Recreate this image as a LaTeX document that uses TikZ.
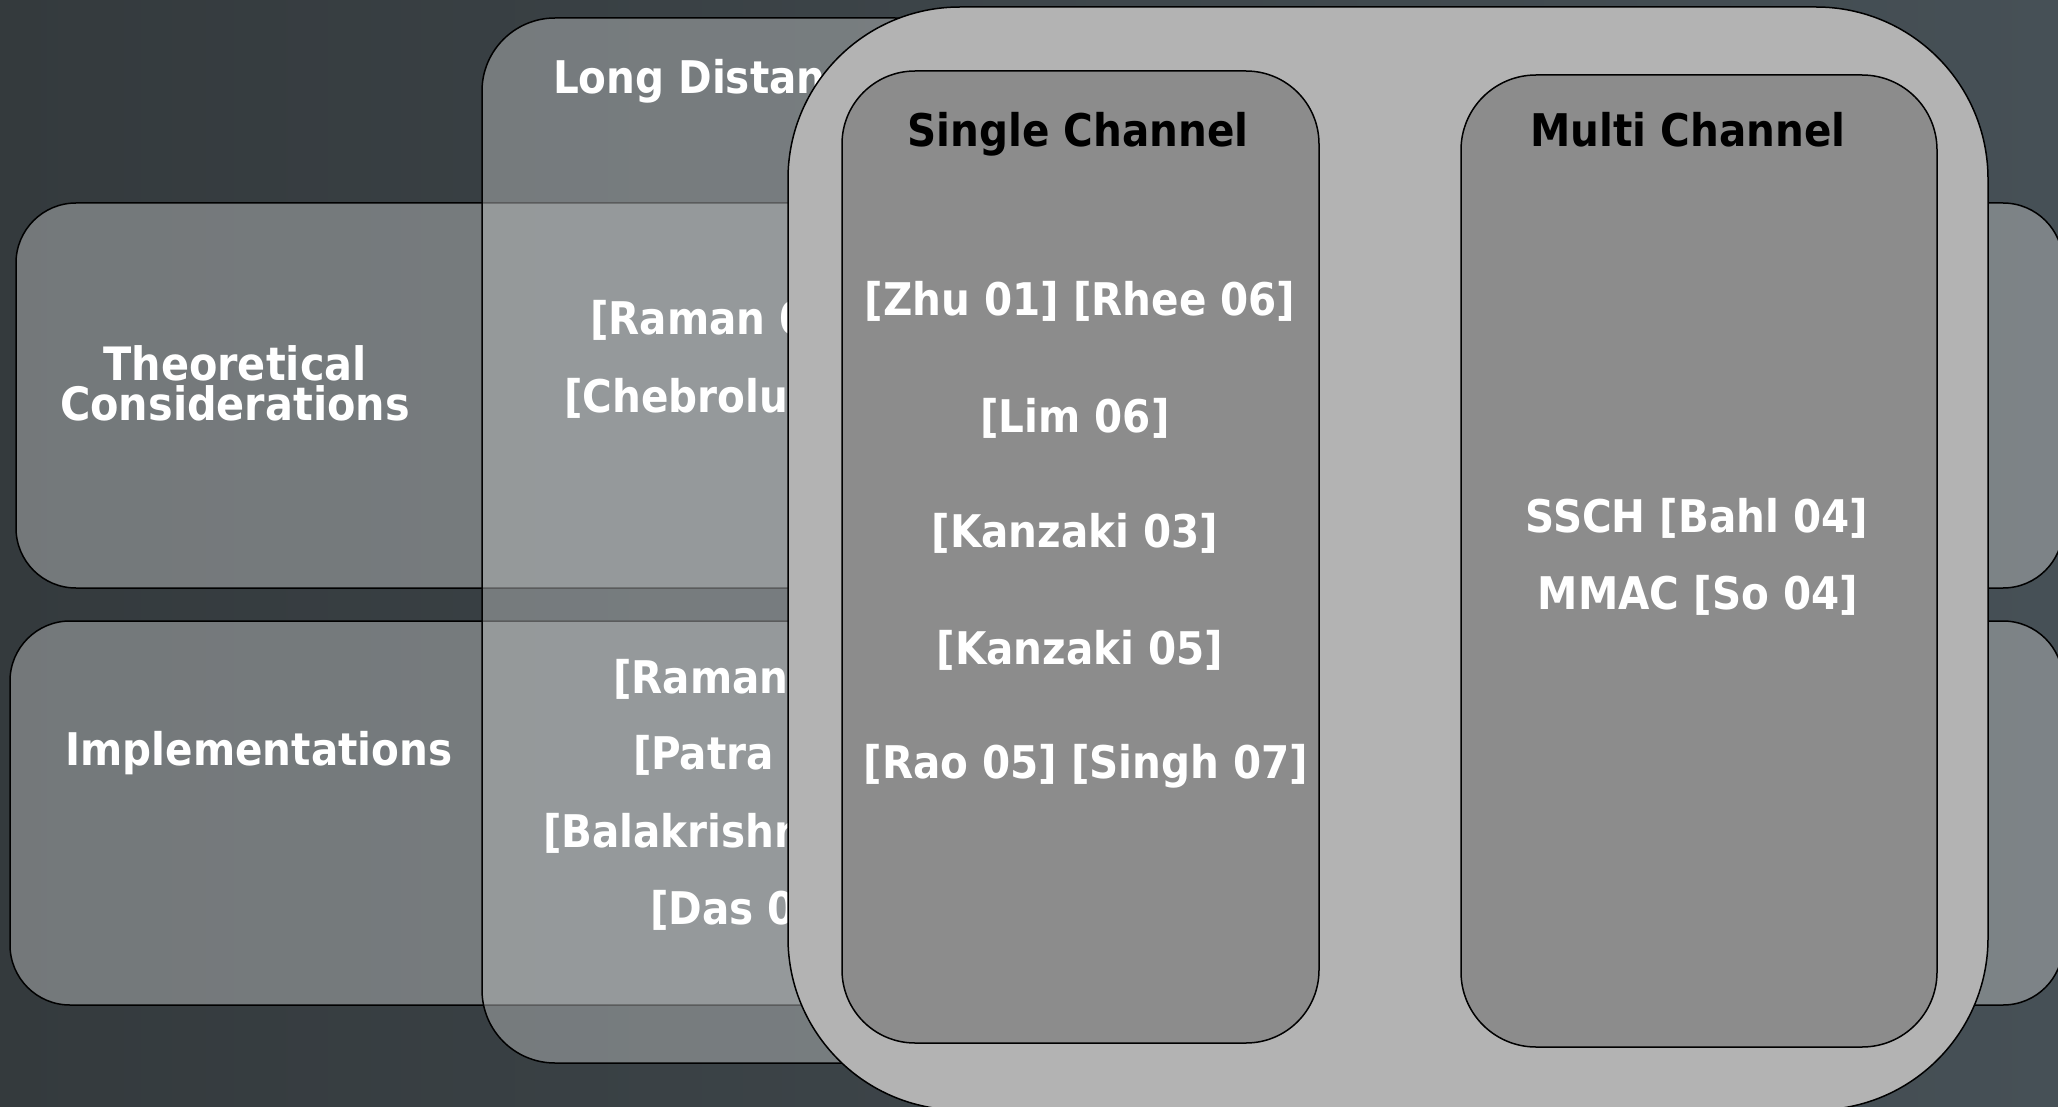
\documentclass[tikz,border=0pt]{standalone}
\usepackage{fontspec}
\setmainfont{DejaVu Sans Condensed}[BoldFont={DejaVu Sans Condensed Bold}]
\definecolor{bgL}{RGB}{52,58,61}
\definecolor{bgR}{RGB}{70,80,86}
\definecolor{glassc}{RGB}{180,183,184}
\definecolor{bigc}{RGB}{179,179,179}
\definecolor{innerc}{RGB}{140,140,140}
\begin{document}
\begin{tikzpicture}[x=1pt,y=-1pt,
  box/.style={draw=black, line width=1.5pt, inner sep=0pt, outer sep=0pt, anchor=north west},
  glass/.style={box, fill=glassc, fill opacity=0.5},
  solidbox/.style={box, fill=#1},
  lbl/.style={text=white, font=\bfseries\fontsize{45}{45}\selectfont, inner sep=0pt, outer sep=0pt},
  title/.style={lbl, text=black, anchor=base}]
\useasboundingbox (0,0) rectangle (2058,1107);
\shade[left color=bgL, right color=bgR] (0,0) rectangle (2058,1107);
% rows and column (semi-transparent)
\node[glass, rounded corners=60pt, minimum width=2047pt, minimum height=385pt] (theo) at (16,203) {};
\node[glass, rounded corners=60pt, minimum width=2053pt, minimum height=384pt] (impl) at (10,621) {};
\node[glass, rounded corners=73pt, minimum width=486pt, minimum height=1045pt] (ld) at (482,18) {};
% their labels
\node[lbl, anchor=base west] (ldT) at (553,94) {Long Distance};
\node[lbl, align=center, font=\bfseries\fontsize{46}{40}\selectfont, anchor=base] (theoT) at (235,420) {Theoretical\\Considerations};
\node[lbl, anchor=base] (implT) at (259,765) {Implementations};
\node[lbl, anchor=base west] (r1) at (590,334) {[Raman 05]};
\node[lbl, anchor=base west] (r2) at (564,412) {[Chebrolu 06]};
\node[lbl, anchor=base west] (r3) at (613,693) {[Raman 06]};
\node[lbl, anchor=base west] (r4) at (633,769) {[Patra 07]};
\node[lbl, anchor=base west] (r5) at (543,847) {[Balakrishnan 07]};
\node[lbl, anchor=base west] (r6) at (650,924) {[Das 07]};
% big container
\node[solidbox=bigc, rounded corners=172pt, minimum width=1200pt, minimum height=1103pt] (big) at (788,7) {};
\node[solidbox=innerc, rounded corners=73pt, minimum width=477pt, minimum height=972pt] (single) at (842,71) {};
\node[solidbox=innerc, rounded corners=75pt, minimum width=476pt, minimum height=972pt] (multi) at (1461,75) {};
% titles
\node[title] (sT) at (1078,147) {Single Channel};
\node[title] (mT) at (1688,147) {Multi Channel};
% single channel entries
\node[lbl, anchor=base] (s1) at (1080,316) {[Zhu 01] [Rhee 06]};
\node[lbl, anchor=base] (s2) at (1075,432) {[Lim 06]};
\node[lbl, anchor=base] (s3) at (1075,547) {[Kanzaki 03]};
\node[lbl, anchor=base] (s4) at (1080,664) {[Kanzaki 05]};
\node[lbl, anchor=base] (s5) at (1086,778) {[Rao 05] [Singh 07]};
% multi channel entries
\node[lbl, anchor=base] (m1) at (1697,532) {SSCH [Bahl 04]};
\node[lbl, anchor=base] (m2) at (1698,609) {MMAC [So 04]};
\end{tikzpicture}
\end{document}
